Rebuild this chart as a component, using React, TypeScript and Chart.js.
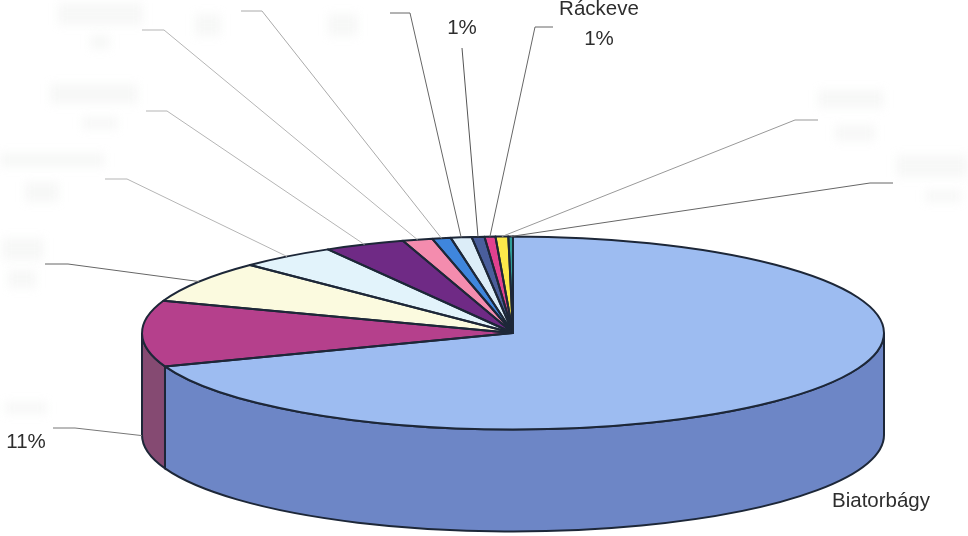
import { useEffect, useRef } from "react";
import Chart from "chart.js/auto";

const categories = ["Biatorbágy", "", "", "", "", "", "", "", "", "Ráckeve", "", ""];
const values = [69, 11, 7, 4.2, 3.5, 1.3, 0.8, 0.9, 0.55, 0.47, 0.55, 0.2];
const percentLabels = ["", "11%", "", "", "", "", "", "", "1%", "1%", "", ""];

const topColors = ["#9dbcf1", "#b5408c", "#fbfadf", "#e2f3fb", "#6f2a85", "#f48cae", "#3f86dd", "#dcedf8", "#4a5e9c", "#e2418f", "#fce84a", "#2f9e9a"];
const wallColors = ["#6d86c6", "#854a72"];

// where the tilted pie sits on the page
const CX = 513;
const CY = 333;
const RX = 371;
const RY = 96.5;
const DEPTH = 102;

// leader lines, by slice index: label end, elbow, extra drop at the rim
const leaders = [
  { i: 1, from: [53, 428], elbow: [75, 428], drop: DEPTH, color: "#777" },
  { i: 2, from: [45, 264], elbow: [68, 264], drop: 0, color: "#666" },
  { i: 3, from: [105, 179], elbow: [127, 179], drop: 0, color: "#b5b5b5" },
  { i: 4, from: [146, 111], elbow: [167, 111], drop: 0, color: "#b5b5b5" },
  { i: 5, from: [142, 30], elbow: [164, 30], drop: 0, color: "#b5b5b5" },
  { i: 6, from: [241, 11], elbow: [262, 11], drop: 0, color: "#aaa" },
  { i: 7, from: [390, 13], elbow: [410, 13], drop: 0, color: "#666" },
  { i: 8, from: [462, 48], elbow: [462, 48], drop: 0, color: "#555" },
  { i: 9, from: [553, 27], elbow: [535, 27], drop: 0, color: "#666" },
  { i: 10, from: [818, 120], elbow: [795, 120], drop: 0, color: "#999" },
  { i: 11, from: [893, 183], elbow: [870, 183], drop: 0, color: "#666" },
];

// readable labels: text comes from the arrays above
const textSpots = [
  { text: categories[0], x: 881, y: 501 },
  { text: percentLabels[1], x: 26, y: 442 },
  { text: percentLabels[8], x: 462, y: 28 },
  { text: categories[9], x: 599, y: 9 },
  { text: percentLabels[9], x: 599, y: 39 },
];

// labels that are washed out in the scan, only pale smudges are left
const smudges = [
  [58, 3, 85, 22], [90, 35, 20, 14], [50, 84, 88, 20], [82, 117, 36, 12],
  [0, 153, 105, 14], [25, 182, 34, 20], [2, 238, 42, 22], [8, 270, 28, 18],
  [195, 14, 26, 22], [328, 14, 30, 22], [818, 90, 66, 18], [835, 125, 40, 16],
  [896, 155, 72, 22], [925, 190, 36, 12], [5, 402, 42, 12],
];

const piePlugin = {
  id: "tiltedPie",
  beforeDatasetsDraw(chart: any) {
    const ctx = chart.ctx;
    const arcs = chart.getDatasetMeta(0).data;
    ctx.save();
    ctx.lineWidth = 2;
    ctx.strokeStyle = "#1d2738";
    arcs.forEach((arc: any, i: number) => {
      const a = Math.max(arc.startAngle, 0);
      const b = Math.min(arc.endAngle, Math.PI);
      if (b <= a) return;
      ctx.beginPath();
      ctx.ellipse(CX, CY, RX, RY, 0, a, b);
      ctx.ellipse(CX, CY + DEPTH, RX, RY, 0, b, a, true);
      ctx.closePath();
      ctx.fillStyle = wallColors[i] ?? "#888";
      ctx.fill();
      ctx.stroke();
    });
    ctx.restore();

    const first = arcs[0];
    const scaleX = RX / first.outerRadius;
    const scaleY = RY / first.outerRadius;
    ctx.save();
    ctx.translate(CX, CY);
    ctx.scale(scaleX, scaleY);
    ctx.translate(-first.x, -first.y);
  },
  afterDatasetsDraw(chart: any) {
    const ctx = chart.ctx;
    ctx.restore();
    const arcs = chart.getDatasetMeta(0).data;

    ctx.save();
    ctx.lineWidth = 2;
    ctx.strokeStyle = "#1d2738";
    ctx.lineJoin = "round";
    arcs.forEach((arc: any) => {
      ctx.beginPath();
      ctx.moveTo(CX, CY);
      ctx.ellipse(CX, CY, RX, RY, 0, arc.startAngle, arc.endAngle);
      ctx.closePath();
      ctx.stroke();
    });

    ctx.lineWidth = 1;
    leaders.forEach((l) => {
      const arc = arcs[l.i];
      const mid = (arc.startAngle + arc.endAngle) / 2;
      ctx.beginPath();
      ctx.moveTo(l.from[0], l.from[1]);
      ctx.lineTo(l.elbow[0], l.elbow[1]);
      ctx.lineTo(CX + RX * Math.cos(mid), CY + RY * Math.sin(mid) + l.drop);
      ctx.strokeStyle = l.color;
      ctx.stroke();
    });

    ctx.filter = "blur(5px)";
    ctx.fillStyle = "rgba(205,210,205,0.16)";
    smudges.forEach((s) => ctx.fillRect(s[0], s[1], s[2], s[3]));
    ctx.filter = "none";

    ctx.font = '20.5px "Liberation Sans"';
    ctx.fillStyle = "#2e2e2e";
    ctx.textAlign = "center";
    ctx.textBaseline = "middle";
    textSpots.forEach((t) => ctx.fillText(t.text, t.x, t.y));
    ctx.restore();
  },
};

const App = () => {
  const chartRef = useRef<HTMLCanvasElement>(null);

  useEffect(() => {
    const ctx = chartRef.current?.getContext("2d");

    if (!ctx) return;

    const chart = new Chart(ctx, {
      type: "pie",
      plugins: [piePlugin],
      data: {
        labels: categories,
        datasets: [
          {
            data: values,
            backgroundColor: topColors,
            borderWidth: 0,
          },
        ],
      },
      options: {
        responsive: false,
        animation: false,
        plugins: {
          legend: { display: false },
          tooltip: { enabled: false },
        },
      },
    });

    return () => {
      chart.destroy();
    };
  }, []);

  return (
    <div style={{ position: "fixed", left: 0, top: 0, width: 968, height: 536, background: "#fff" }}>
      <canvas ref={chartRef} width={968} height={536} style={{ display: "block" }} />
    </div>
  );
};

export default App;
